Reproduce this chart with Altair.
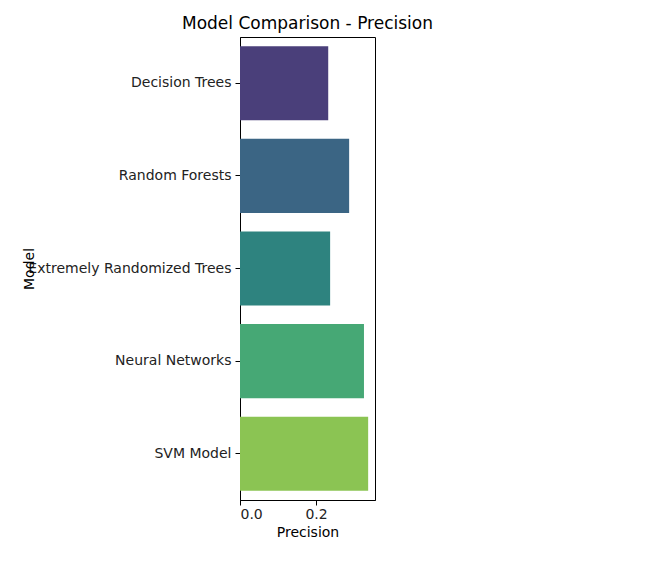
import altair as alt
import pandas as pd

models = ["Decision Trees", "Random Forests", "Extremely Randomized Trees", "Neural Networks", "SVM Model"]
precision = [0.232, 0.287, 0.237, 0.326, 0.337]
colors = ["#4a3f7a", "#3b6584", "#2e837f", "#46a875", "#8bc453"]

df = pd.DataFrame({"Model": models, "Precision": precision})

chart = alt.Chart(df).mark_bar().encode(
    y=alt.Y("Model:N", sort=models, scale=alt.Scale(paddingInner=0.2, paddingOuter=0.1),
            axis=alt.Axis(title="Model", labelFontSize=14, titleFontSize=14, labelColor="#222",
                          titleFontWeight="normal", labelPadding=4, tickSize=5, labelLimit=0)),
    x=alt.X("Precision:Q", scale=alt.Scale(domain=[0, 0.355], nice=False),
            axis=alt.Axis(values=[0.0, 0.2], format=".1f", grid=False, labelFontSize=14,
                          titleFontSize=14, titleFontWeight="normal", labelColor="#222", tickSize=5)),
    color=alt.Color("Model:N", sort=models, scale=alt.Scale(domain=models, range=colors), legend=None),
).properties(
    width=135, height=463,
    padding={"left": 14, "top": 7, "right": 5, "bottom": 5},
    title=alt.TitleParams("Model Comparison - Precision", fontSize=17, fontWeight="normal", anchor="middle"),
).configure_view(stroke="black", strokeWidth=1).configure_axis(
    domainColor="black", tickColor="black", labelFont="DejaVu Sans", titleFont="DejaVu Sans"
).configure_title(font="DejaVu Sans")

chart.save("out.html", embed_options={"renderer": "svg", "actions": False})
